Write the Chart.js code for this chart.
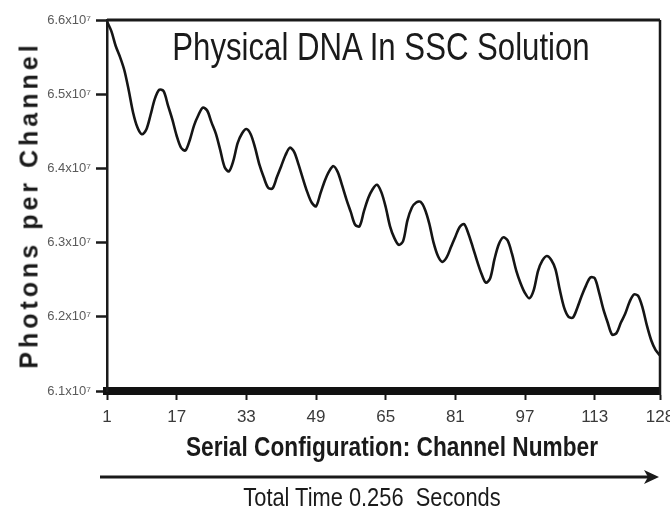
<!DOCTYPE html>
<html>
<head>
<meta charset="utf-8">
<script src="https://cdn.jsdelivr.net/npm/chart.js@4.4.1/dist/chart.umd.min.js"></script>
<style>
  html, body { margin: 0; padding: 0; background: #fff; }
  #wrap { position: relative; width: 670px; height: 514px; overflow: hidden; }
  #chart { position: absolute; left: 0; top: 0; }
  .txt { position: absolute; white-space: pre; color: #1a1a1a; line-height: 1; font-family: 'Liberation Sans', Arial, sans-serif; }
  #title { left: 381px; top: 28px; font-size: 38px; transform: translateX(-50%) scaleX(0.82); }
  #xtitle { left: 392px; top: 433px; font-size: 28px; font-weight: bold; transform: translateX(-50%) scaleX(0.81); }
  #ttime { left: 372px; top: 484px; font-size: 26px; transform: translateX(-50%) scaleX(0.84); }
  #ytitle { left: 29px; top: 205px; transform: translate(-50%, -50%) rotate(-90deg); font-size: 25px; font-weight: bold; letter-spacing: 4px; }
  #arrow { position: absolute; left: 0; top: 0; }
</style>
</head>
<body>
<div id="wrap">
  <canvas id="chart" width="670" height="514"></canvas>
  <div class="txt" id="title">Physical DNA In SSC Solution</div>
  <div class="txt" id="ytitle">Photons per Channel</div>
  <div class="txt" id="xtitle">Serial Configuration: Channel Number</div>
  <svg id="arrow" width="670" height="514">
    <line x1="100" y1="477" x2="650" y2="477" stroke="#1a1a1a" stroke-width="3"/>
    <polygon points="644,470 659,477 644,484 648,477" fill="#1a1a1a"/>
  </svg>
  <div class="txt" id="ttime">Total Time 0.256  Seconds</div>
</div>
<script>
// photons per channel, in units of 10^7, channels 1..128
const PHOTONS = [
  6.598, 6.585, 6.565, 6.550, 6.532, 6.505, 6.475, 6.455, 6.446, 6.452,
  6.472, 6.494, 6.506, 6.504, 6.485, 6.466, 6.444, 6.428, 6.424, 6.438,
  6.458, 6.472, 6.482, 6.478, 6.462, 6.447, 6.425, 6.402, 6.396, 6.410,
  6.434, 6.447, 6.453, 6.446, 6.428, 6.405, 6.388, 6.374, 6.373, 6.388,
  6.403, 6.418, 6.428, 6.422, 6.405, 6.386, 6.368, 6.354, 6.349, 6.366,
  6.383, 6.396, 6.403, 6.395, 6.377, 6.358, 6.341, 6.324, 6.322, 6.342,
  6.360, 6.372, 6.378, 6.368, 6.348, 6.322, 6.306, 6.297, 6.302, 6.330,
  6.347, 6.354, 6.355, 6.345, 6.326, 6.300, 6.282, 6.274, 6.280, 6.294,
  6.308, 6.321, 6.325, 6.312, 6.294, 6.275, 6.258, 6.246, 6.252, 6.278,
  6.298, 6.307, 6.303, 6.285, 6.262, 6.245, 6.232, 6.225, 6.236, 6.262,
  6.276, 6.282, 6.277, 6.264, 6.236, 6.212, 6.200, 6.199, 6.212, 6.228,
  6.242, 6.253, 6.252, 6.233, 6.210, 6.192, 6.176, 6.178, 6.192, 6.204,
  6.220, 6.230, 6.228, 6.212, 6.188, 6.168, 6.155, 6.148
];
const CHANNELS = PHOTONS.map((_, i) => i + 1);

const X_TICKS = [1, 17, 33, 49, 65, 81, 97, 113, 128];
const Y_TICKS = [6.1, 6.2, 6.3, 6.4, 6.5, 6.6];

// cadre haut + droite
const framePlugin = {
  id: 'frame',
  afterDraw(chart) {
    const { ctx, chartArea: a } = chart;
    ctx.save();
    ctx.strokeStyle = '#1a1a1a';
    ctx.lineWidth = 3;
    ctx.beginPath();
    ctx.moveTo(a.left, a.top);
    ctx.lineTo(a.right, a.top);
    ctx.stroke();
    ctx.lineWidth = 2.5;
    ctx.beginPath();
    ctx.moveTo(a.right, a.top);
    ctx.lineTo(a.right, a.bottom + 4);
    ctx.stroke();
    ctx.restore();
  }
};

new Chart(document.getElementById('chart'), {
  type: 'line',
  data: {
    datasets: [{
      data: CHANNELS.map((c, i) => ({ x: c, y: PHOTONS[i] })),
      borderColor: '#151515',
      borderWidth: 2.6,
      pointRadius: 0,
      tension: 0.3,
      fill: false
    }]
  },
  options: {
    responsive: false,
    animation: false,
    layout: { padding: { top: 20, right: 10, left: 0, bottom: 0 } },
    plugins: { legend: { display: false }, tooltip: { enabled: false } },
    scales: {
      x: {
        type: 'linear',
        min: 1,
        max: 128,
        afterBuildTicks: s => { s.ticks = X_TICKS.map(v => ({ value: v })); },
        afterFit: s => { s.height = 123; s.paddingLeft = 0; s.paddingRight = 0; },
        grid: { drawOnChartArea: false, tickLength: 9, tickWidth: 2, tickColor: '#1a1a1a' },
        border: { color: '#111', width: 8 },
        ticks: {
          color: '#3a3a3a',
          padding: 7,
          maxRotation: 0,
          font: { family: "'Liberation Sans', sans-serif", size: 17 }
        }
      },
      y: {
        min: 6.1,
        max: 6.6,
        afterBuildTicks: s => { s.ticks = Y_TICKS.map(v => ({ value: v })); },
        afterFit: s => { s.width = 107; s.paddingTop = 0; s.paddingBottom = 0; },
        grid: { drawOnChartArea: false, tickLength: 11, tickWidth: 2.5, tickColor: '#1a1a1a' },
        border: { color: '#1a1a1a', width: 2.5 },
        ticks: {
          color: '#5a5a5a',
          padding: 5,
          font: { family: "'Liberation Sans', sans-serif", size: 13 },
          callback: v => v.toFixed(1) + 'x10\u2077'
        }
      }
    }
  },
  plugins: [framePlugin]
});
</script>
</body>
</html>
